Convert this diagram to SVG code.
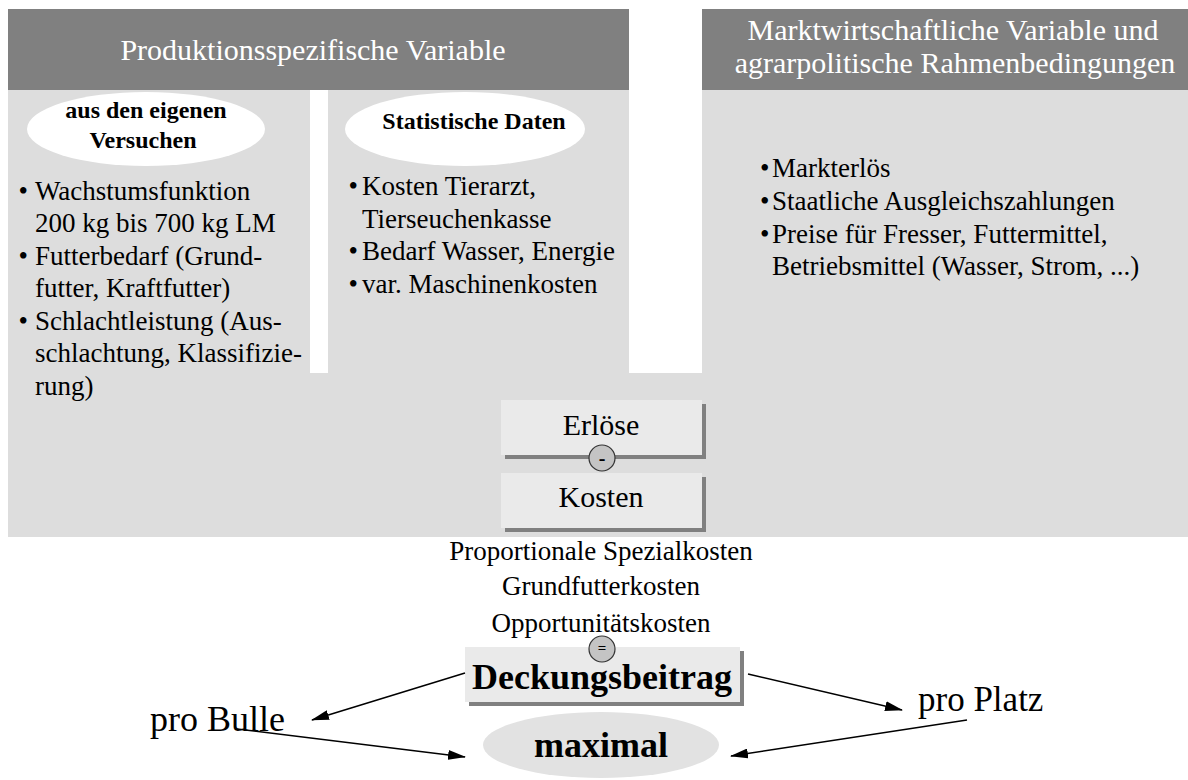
<svg xmlns="http://www.w3.org/2000/svg" width="1188" height="780" viewBox="0 0 1188 780">
  <defs>
    <style>
      .hdr { fill: #808080; }
      .panel { fill: #dddddd; }
      .box { fill: #eaeaea; }
      .shadow { fill: #808080; }
      .oval { fill: #ffffff; }
      .t { font-family: "Liberation Serif", "Times New Roman", serif; fill: #000; }
      .hdrtxt { font-family: "Liberation Serif", "Times New Roman", serif; fill: #ffffff; font-size: 30px; text-anchor: middle; }
      .body { font-size: 27px; }
      .sub { font-size: 24px; font-weight: bold; text-anchor: middle; }
      .mid { text-anchor: middle; }
      .op { fill: #c4c4c4; stroke: #333333; stroke-width: 1.2; }
      .link { stroke: #000; stroke-width: 1.5; fill: none; marker-end: url(#arrow); }
    </style>
    <marker id="arrow" markerUnits="userSpaceOnUse" markerWidth="18" markerHeight="10" refX="17" refY="5" orient="auto">
      <path d="M0,0 L18,5 L0,10 Z" fill="#000"/>
    </marker>
  </defs>

  <!-- background panel with two white gaps between the upper columns -->
  <path class="panel" d="M8,90 H310 V373 H328 V90 H629 V373 H702 V90 H1188 V537 H8 Z"/>

  <!-- production-specific variables -->
  <g id="header-production">
    <rect class="hdr" x="8" y="9" width="621" height="81"/>
    <text class="hdrtxt" x="313" y="60">Produktionsspezifische Variable</text>
  </g>

  <!-- market variables -->
  <g id="header-market">
    <rect class="hdr" x="702" y="9" width="486" height="81"/>
    <text class="hdrtxt" x="953" y="40">Marktwirtschaftliche Variable und</text>
    <text class="hdrtxt" x="955" y="73">agrarpolitische Rahmenbedingungen</text>
  </g>

  <g id="source-trials">
    <ellipse class="oval" cx="146" cy="129" rx="119" ry="37"/>
    <text class="t sub" x="146" y="118">aus den eigenen</text>
    <text class="t sub" x="143" y="148">Versuchen</text>
  </g>

  <g id="source-statistics">
    <ellipse class="oval" cx="465" cy="129" rx="120" ry="37"/>
    <text class="t sub" x="474" y="129">Statistische Daten</text>
  </g>

  <g id="list-trials" class="t body">
    <text x="18.5" y="200">•</text><text x="35" y="200">Wachstumsfunktion</text>
    <text x="35" y="232">200 kg bis 700 kg LM</text>
    <text x="18.5" y="265">•</text><text x="35" y="265">Futterbedarf (Grund-</text>
    <text x="35" y="297">futter, Kraftfutter)</text>
    <text x="18.5" y="330">•</text><text x="35" y="330">Schlachtleistung (Aus-</text>
    <text x="35" y="362">schlachtung, Klassifizie-</text>
    <text x="35" y="395">rung)</text>
  </g>

  <g id="list-statistics" class="t body">
    <text x="348.5" y="195">•</text><text x="362" y="195">Kosten Tierarzt,</text>
    <text x="362" y="228">Tierseuchenkasse</text>
    <text x="348.5" y="260">•</text><text x="362" y="260">Bedarf Wasser, Energie</text>
    <text x="348.5" y="293">•</text><text x="362" y="293">var. Maschinenkosten</text>
  </g>

  <g id="list-market" class="t body">
    <text x="760" y="177">•</text><text x="772" y="177">Markterlös</text>
    <text x="760" y="210">•</text><text x="772" y="210">Staatliche Ausgleichszahlungen</text>
    <text x="760" y="243">•</text><text x="772" y="243">Preise für Fresser, Futtermittel,</text>
    <text x="772" y="275">Betriebsmittel (Wasser, Strom, ...)</text>
  </g>

  <g id="revenue">
    <rect class="shadow" x="505" y="404" width="201" height="55"/>
    <rect class="box" x="501" y="400" width="201" height="55"/>
    <text class="t mid" x="601" y="435" font-size="30">Erlöse</text>
  </g>

  <g id="costs">
    <rect class="shadow" x="505" y="477" width="201" height="55"/>
    <rect class="box" x="501" y="473" width="201" height="55"/>
    <text class="t mid" x="601" y="507" font-size="30">Kosten</text>
  </g>

  <g id="op-minus">
    <circle class="op" cx="602" cy="458" r="13"/>
    <text class="t mid" x="602" y="465" font-size="20" font-weight="bold">-</text>
  </g>

  <g id="cost-items" class="t body mid">
    <text x="601" y="560">Proportionale Spezialkosten</text>
    <text x="601" y="595">Grundfutterkosten</text>
    <text x="601" y="632">Opportunitätskosten</text>
  </g>

  <g id="margin">
    <rect class="shadow" x="469" y="651" width="275" height="55"/>
    <rect class="box" x="465" y="647" width="275" height="55"/>
    <text class="t mid" x="602" y="689" font-size="36" font-weight="bold">Deckungsbeitrag</text>
  </g>

  <g id="op-equals">
    <circle class="op" cx="602" cy="649" r="13"/>
    <text class="t mid" x="602" y="653" font-size="15" font-weight="bold">=</text>
  </g>

  <g id="per-bull">
    <text class="t" x="150" y="731" font-size="36">pro Bulle</text>
  </g>

  <g id="per-place">
    <text class="t" x="918" y="711" font-size="35">pro Platz</text>
  </g>

  <g id="maximal">
    <ellipse cx="601" cy="745" rx="118" ry="33" fill="#e2e2e2"/>
    <text class="t mid" x="601" y="757" font-size="36" font-weight="bold">maximal</text>
  </g>

  <g id="connectors">
    <line class="link" x1="465" y1="673" x2="312" y2="720"/>
    <line class="link" x1="237" y1="729" x2="465" y2="757"/>
    <line class="link" x1="748" y1="674" x2="902" y2="710"/>
    <line class="link" x1="967" y1="720" x2="731" y2="756"/>
  </g>
</svg>
